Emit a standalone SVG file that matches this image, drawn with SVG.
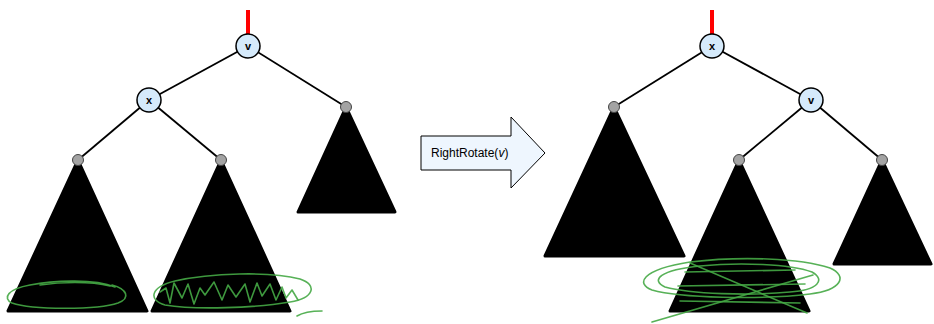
<svg xmlns="http://www.w3.org/2000/svg" width="934" height="324" viewBox="0 0 934 324">
<style>
.edge{stroke:#000;stroke-width:1.8;fill:none}
.root{stroke:#f00;stroke-width:4}
.node circle{fill:#d5eafb;stroke:#000;stroke-width:1.5}
.node text{font-family:"Liberation Sans",Arial,sans-serif;font-weight:bold;font-size:11px;text-anchor:middle;fill:#000}
.tri{fill:#000;stroke:#000;stroke-width:3;stroke-linejoin:round}
.dot{fill:#a3a3a3;stroke:#444;stroke-width:1}
.ink{fill:none;stroke:#45a845;stroke-width:1.6;stroke-linecap:round;stroke-linejoin:round;opacity:0.9}
.lbl{font-family:"Liberation Sans",Arial,sans-serif;font-size:12px;fill:#000}
</style>
<rect width="934" height="324" fill="#fff"/>

<g id="connectors">
  <line class="root" x1="248" y1="10" x2="248" y2="34"/>
  <line class="edge" x1="248" y1="46" x2="149" y2="100"/>
  <line class="edge" x1="248" y1="46" x2="346" y2="107"/>
  <line class="edge" x1="149" y1="100" x2="78" y2="160"/>
  <line class="edge" x1="149" y1="100" x2="221" y2="160"/>
  <line class="root" x1="712" y1="10" x2="712" y2="34"/>
  <line class="edge" x1="712" y1="46" x2="614" y2="107"/>
  <line class="edge" x1="712" y1="46" x2="811" y2="100"/>
  <line class="edge" x1="811" y1="100" x2="739" y2="160"/>
  <line class="edge" x1="811" y1="100" x2="882" y2="160"/>
</g>

<g id="subtree-left-A">
  <path class="tri" d="M78,160 L147,311 L8,311 Z"/>
  <circle class="dot" cx="78" cy="160" r="5.5"/>
</g>
<g id="subtree-left-B">
  <path class="tri" d="M221,160 L290,311 L152,311 Z"/>
  <circle class="dot" cx="221" cy="160" r="5.5"/>
</g>
<g id="subtree-left-C">
  <path class="tri" d="M346,107 L395,212 L298,212 Z"/>
  <circle class="dot" cx="346" cy="107" r="5.5"/>
</g>
<g id="subtree-right-A">
  <path class="tri" d="M614,107 L684,256 L545,256 Z"/>
  <circle class="dot" cx="614" cy="107" r="5.5"/>
</g>
<g id="subtree-right-B">
  <path class="tri" d="M739,160 L809,311 L670,311 Z"/>
  <circle class="dot" cx="739" cy="160" r="5.5"/>
</g>
<g id="subtree-right-C">
  <path class="tri" d="M882,160 L931,264 L834,264 Z"/>
  <circle class="dot" cx="882" cy="160" r="5.5"/>
</g>

<g id="node-v-left" class="node">
  <circle cx="248" cy="46" r="12"/>
  <text x="248" y="50">v</text>
</g>
<g id="node-x-left" class="node">
  <circle cx="149" cy="100" r="12"/>
  <text x="149" y="104">x</text>
</g>
<g id="node-x-right" class="node">
  <circle cx="712" cy="46" r="12"/>
  <text x="712" y="50">x</text>
</g>
<g id="node-v-right" class="node">
  <circle cx="811" cy="100" r="12"/>
  <text x="811" y="104">v</text>
</g>

<g id="arrow">
  <path d="M421,136 L511,136 L511,117 L545,153 L511,188 L511,170 L421,170 Z" fill="#eef6fe" stroke="#000" stroke-width="1"/>
  <text class="lbl" x="431" y="157">RightRotate(<tspan font-style="italic">v</tspan>)</text>
</g>

<g id="scribbles">
  <path class="ink" d="M112,285 C127,289 131,298 118,303 C98,310 32,310 12,303 C2,298 8,289 30,285 C55,280 95,279 115,287"/>
  <path class="ink" d="M110,286 C90,281 60,282 40,285" opacity="0.6"/>
  <path class="ink" d="M175,281 C210,273 270,271 300,279 C318,285 314,298 290,302 C255,308 195,310 165,305 C148,300 150,287 175,281"/>
  <path class="ink" d="M160,292 L166,288 L170,303 L174,283 L182,298 L188,284 L194,304 L200,288 L205,295 L214,282 L222,300 L228,285 L236,297 L245,284 L250,302 L257,283 L262,296 L270,284 L276,300 L282,287 L286,298 L292,290 L298,300"/>
  <path class="ink" d="M297,316 C305,311 315,311 322,311"/>
  <path class="ink" d="M690,262 C740,256 800,258 830,268 C848,276 842,290 810,294 C760,300 680,298 652,290 C636,284 640,270 690,262"/>
  <path class="ink" d="M700,266 C740,262 790,264 812,272 C826,280 818,290 790,292 C750,296 690,294 665,287 C650,280 660,270 700,266"/>
  <path class="ink" d="M690,263 L807,313"/>
  <path class="ink" d="M652,322 L813,275"/>
  <path class="ink" d="M685,272 L795,270"/>
  <path class="ink" d="M678,286 L805,284"/>
  <path class="ink" d="M680,301 L800,303"/>
</g>
</svg>
